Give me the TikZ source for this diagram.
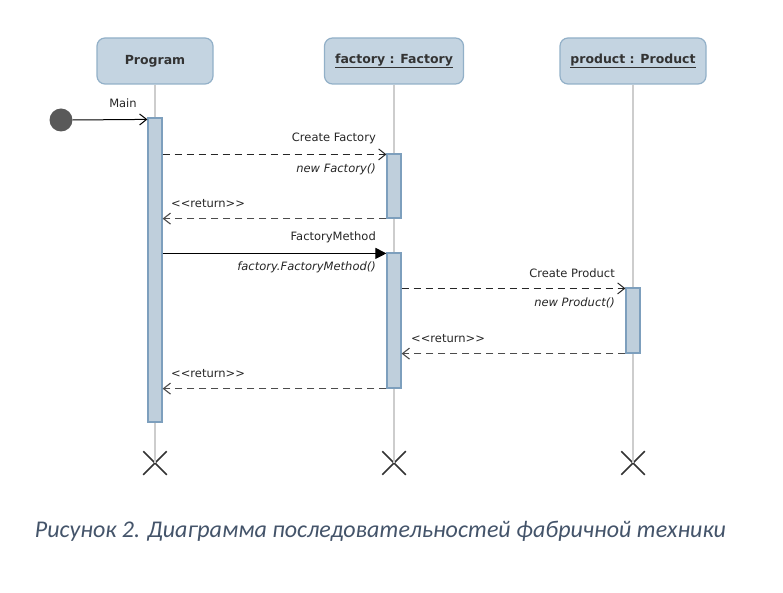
\documentclass[tikz,border=0pt]{standalone}
\usepackage{fontspec}
\setmainfont{DejaVu Sans}
\newfontfamily\capfont{Carlito}
\usepackage{tikz}
\usetikzlibrary{arrows.meta, positioning, shapes.misc}
\definecolor{HeadFill}{RGB}{196, 212, 225}
\definecolor{HeadLine}{RGB}{146, 176, 200}
\definecolor{ActFill}{RGB}{191, 207, 220}
\definecolor{ActLine}{RGB}{125, 159, 189}
\definecolor{LifeGray}{RGB}{205, 205, 205}
\definecolor{CapBlue}{RGB}{68, 84, 106}

\begin{document}
\begin{tikzpicture}[
    x=1pt, y=-1pt,
    head/.style={draw=HeadLine, fill=HeadFill, line width=1.2pt, rounded corners=8pt, minimum height=46pt, font=\fontsize{12.5}{14}\selectfont\bfseries, text=black!80},
    act/.style={draw=ActLine, fill=ActFill, line width=1.2pt, minimum width=14pt, inner sep=0pt},
    life/.style={draw=LifeGray, line width=1.4pt},
    kill/.style={draw=black!80, cross out, line width=1.5pt, minimum size=22pt, inner sep=0pt},
    msg/.style={font=\fontsize{11.5}{13}\selectfont, text=black!85, inner sep=0pt},
    call/.style={black!85, dash pattern=on 7pt off 5pt, line width=1pt, -{Straight Barb[length=7pt, width=11pt]}},
    sync/.style={black, line width=1pt, -{Triangle[length=11pt, width=11pt]}},
    ret/.style={black!70, dash pattern=on 7pt off 5pt, line width=1.1pt, -{Straight Barb[length=7pt, width=11pt]}}
  ]
    \useasboundingbox (0,0) rectangle (783,593);

    % Lifeline heads
    \node[head, minimum width=116pt] (prog) at (155, 61) {Program};
    \node[head, minimum width=139pt] (fact) at (394, 61) {\underline{factory : Factory}};
    \node[head, minimum width=146pt] (prod) at (633, 61) {\underline{product : Product}};

    % Destruction marks
    \node[kill] (xprog) at (155, 463) {};
    \node[kill] (xfact) at (394, 463) {};
    \node[kill] (xprod) at (633, 463) {};

    % Lifelines
    \draw[life] (prog.south) -- (xprog.center);
    \draw[life] (fact.south) -- (xfact.center);
    \draw[life] (prod.south) -- (xprod.center);

    % Activations
    \node[act, minimum height=304pt] (pa) at (155, 270) {};
    \node[act, minimum height=64pt] (fa1) at (394, 186) {};
    \node[act, minimum height=135pt] (fa2) at (394, 320.5) {};
    \node[act, minimum height=65pt] (ra) at (633, 320.5) {};

    % Start
    \node[circle, fill=black!65, minimum size=23pt, inner sep=0pt] (start) at (61, 120) {};
    \draw[black, line width=1pt, -{Straight Barb[length=7pt, width=11pt]}] (start.east) -- ([yshift=-2pt]pa.north west);
    \node[msg, anchor=south] (lmain) at (123, 108) {Main};

    % Messages
    \draw[call] ([yshift=-1pt]pa.east |- fa1.north) -- ([yshift=-1pt]fa1.north west);
    \node[msg, anchor=south east] (l1) at (376, 144) {Create Factory};
    \node[msg, anchor=north east] (l1b) at (376, 164) {\itshape new Factory()};

    \draw[ret] (fa1.south west) -- (pa.east |- fa1.south);
    \node[msg, anchor=south west] (l2) at (171, 208) {{<}{<}return{>}{>}};

    \draw[sync] ([yshift=-1pt]pa.east |- fa2.north) -- ([yshift=-1pt]fa2.north west);
    \node[msg, anchor=south east] (l3) at (376, 243) {FactoryMethod};
    \node[msg, anchor=north east] (l3b) at (376, 262) {\itshape factory.FactoryMethod()};

    \draw[call] ([yshift=-1pt]fa2.east |- ra.north) -- ([yshift=-1pt]ra.north west);
    \node[msg, anchor=south east] (l4) at (615, 278) {Create Product};
    \node[msg, anchor=north east] (l4b) at (615, 298) {\itshape new Product()};

    \draw[ret] (ra.south west) -- (fa2.east |- ra.south);
    \node[msg, anchor=south west] (l5) at (411, 343) {{<}{<}return{>}{>}};

    \draw[ret] (fa2.south west) -- (pa.east |- fa2.south);
    \node[msg, anchor=south west] (l6) at (171, 378) {{<}{<}return{>}{>}};

    % Caption
    \node[font=\capfont\itshape\fontsize{24}{28}\selectfont, text=CapBlue] (cap) at (380.5, 531) {Рисунок 2. Диаграмма последовательностей фабричной техники};
\end{tikzpicture}
\end{document}
